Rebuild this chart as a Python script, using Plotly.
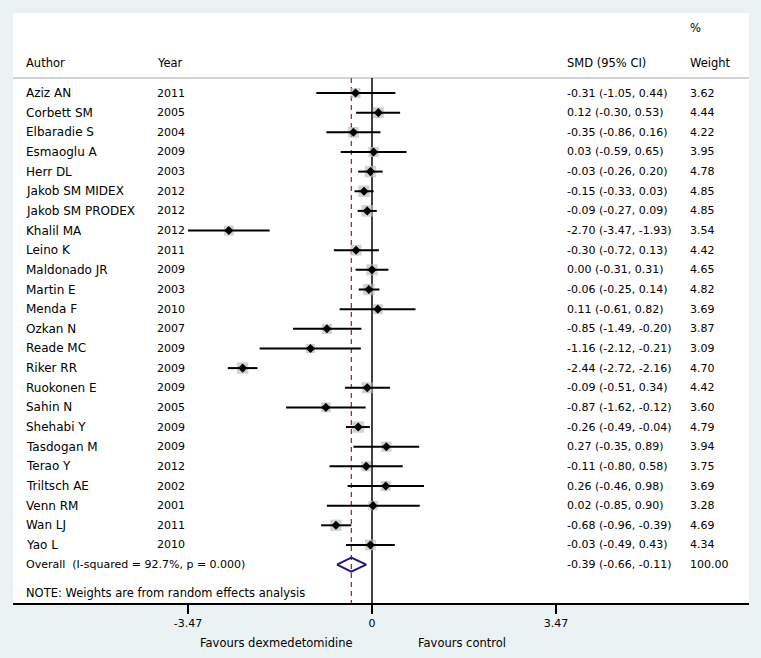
import plotly.graph_objects as go

authors = ["Aziz AN", "Corbett SM", "Elbaradie S", "Esmaoglu A", "Herr DL", "Jakob SM MIDEX",
           "Jakob SM PRODEX", "Khalil MA", "Leino K", "Maldonado JR", "Martin E", "Menda F",
           "Ozkan N", "Reade MC", "Riker RR", "Ruokonen E", "Sahin N", "Shehabi Y",
           "Tasdogan M", "Terao Y", "Triltsch AE", "Venn RM", "Wan LJ", "Yao L"]
years = ["2011", "2005", "2004", "2009", "2003", "2012", "2012", "2012", "2011", "2009", "2003", "2010",
         "2007", "2009", "2009", "2009", "2005", "2009", "2009", "2012", "2002", "2001", "2011", "2010"]
smd = [-0.31, 0.12, -0.35, 0.03, -0.03, -0.15, -0.09, -2.70, -0.30, 0.00, -0.06, 0.11,
       -0.85, -1.16, -2.44, -0.09, -0.87, -0.26, 0.27, -0.11, 0.26, 0.02, -0.68, -0.03]
ci_low = [-1.05, -0.30, -0.86, -0.59, -0.26, -0.33, -0.27, -3.47, -0.72, -0.31, -0.25, -0.61,
          -1.49, -2.12, -2.72, -0.51, -1.62, -0.49, -0.35, -0.80, -0.46, -0.85, -0.96, -0.49]
ci_high = [0.44, 0.53, 0.16, 0.65, 0.20, 0.03, 0.09, -1.93, 0.13, 0.31, 0.14, 0.82,
           -0.20, -0.21, -2.16, 0.34, -0.12, -0.04, 0.89, 0.58, 0.98, 0.90, -0.39, 0.43]
weights = [3.62, 4.44, 4.22, 3.95, 4.78, 4.85, 4.85, 3.54, 4.42, 4.65, 4.82, 3.69,
           3.87, 3.09, 4.70, 4.42, 3.60, 4.79, 3.94, 3.75, 3.69, 3.28, 4.69, 4.34]
overall_label = "Overall  (I-squared = 92.7%, p = 0.000)"
overall = [-0.39, -0.66, -0.11]
overall_weight = 100.00
tick_vals = [-3.47, 0, 3.47]
tick_text = ["-3.47", "0", "3.47"]

W, H = 761, 658
PL, PR, PT, PB = 13, 749, 13, 603   # panel in pixels
X0PX = 372.0
SCALE = 184.0 / 3.47               # px per unit
ROW0PX, ROWH = 93.0, 19.65

def xd(px):
    return (px - X0PX) / SCALE

def yd(py):
    return (py - ROW0PX) / ROWH

n = len(authors)
rows = list(range(n))
orow = n

FONT = "DejaVu Sans"
FS = 11.5
fig = go.Figure()

# gray weight boxes
fig.add_trace(go.Scatter(x=smd, y=rows, mode="markers",
                         marker=dict(symbol="square", color="#bdbdbd",
                                     size=[5.2 * w ** 0.5 for w in weights], line=dict(width=0)),
                         hoverinfo="skip", showlegend=False))
# CI lines
lx, ly = [], []
for i in rows:
    lx += [ci_low[i], ci_high[i], None]
    ly += [i, i, None]
fig.add_trace(go.Scatter(x=lx, y=ly, mode="lines", line=dict(color="black", width=2),
                         hoverinfo="skip", showlegend=False))
# point estimates
fig.add_trace(go.Scatter(x=smd, y=rows, mode="markers",
                         marker=dict(symbol="diamond", color="black", size=7),
                         hoverinfo="skip", showlegend=False))
# overall diamond
h = 7.0 / ROWH
fig.add_trace(go.Scatter(x=[overall[1], overall[0], overall[2], overall[0], overall[1]],
                         y=[orow, orow - h, orow, orow + h, orow], mode="lines",
                         line=dict(color="#1c1c72", width=2), hoverinfo="skip", showlegend=False))

ytop_line = yd(78)
ybot = yd(PB)
shapes = [
    dict(type="line", xref="paper", yref="y", x0=0, x1=1, y0=ytop_line, y1=ytop_line,
         line=dict(color="#c4c4c4", width=1.5), layer="below"),
    dict(type="line", xref="x", yref="y", x0=0, x1=0, y0=ytop_line, y1=ybot,
         line=dict(color="black", width=1.5), layer="below"),
    dict(type="line", xref="x", yref="y", x0=overall[0], x1=overall[0], y0=ytop_line, y1=ybot,
         line=dict(color="#8b2233", width=1.2, dash="5px,4px"), layer="below"),
]

ann = []
def t(x, y, s, size=FS, xanchor="left", yref="y"):
    ann.append(dict(x=x, y=y, xref="x", yref=yref, text=s, showarrow=False, xanchor=xanchor,
                    yanchor="middle", font=dict(family=FONT, size=size, color="black")))

xa, xy, xs, xw = xd(24), xd(155), xd(565), xd(688)
hy = yd(63)
t(xa, hy, "Author"); t(xy, hy, "Year"); t(xs, hy, "SMD (95% CI)")
t(xw, yd(28), "%"); t(xw, hy, "Weight")
for i in rows:
    t(xa, i, authors[i], size=12); t(xy, i, years[i], size=11)
    t(xs, i, "%.2f (%.2f, %.2f)" % (smd[i], ci_low[i], ci_high[i]), size=11)
    t(xw, i, "%.2f" % weights[i], size=11)
t(xa, orow, overall_label, size=11)
t(xs, orow, "%.2f (%.2f, %.2f)" % tuple(overall), size=11)
t(xw, orow, "%.2f" % overall_weight, size=11)
t(xa, yd(593), "NOTE: Weights are from random effects analysis")
py_fav = (PB - 643) / (PB - PT)
ann.append(dict(x=xd(276), y=py_fav, xref="x", yref="paper", text="Favours dexmedetomidine",
                showarrow=False, xanchor="center", yanchor="middle",
                font=dict(family=FONT, size=FS, color="black")))
ann.append(dict(x=xd(462), y=py_fav, xref="x", yref="paper", text="Favours control",
                showarrow=False, xanchor="center", yanchor="middle",
                font=dict(family=FONT, size=FS, color="black")))

fig.update_layout(
    width=W, height=H,
    margin=dict(l=PL, r=W - PR, t=PT, b=H - PB, pad=0),
    paper_bgcolor="#eaf2f3", plot_bgcolor="white",
    shapes=shapes, annotations=ann, showlegend=False,
    xaxis=dict(range=[xd(PL), xd(PR)], showgrid=False, zeroline=False, showline=True,
               linecolor="black", linewidth=1.5, ticks="outside", ticklen=9, tickwidth=1.5,
               tickcolor="black", tickvals=tick_vals, ticktext=tick_text,
               tickfont=dict(family=FONT, size=11, color="black"), fixedrange=True),
    yaxis=dict(range=[ybot, yd(PT)], showgrid=False, zeroline=False, showline=False,
               showticklabels=False, ticks="", fixedrange=True),
)

fig.write_html("out.html", config={"displayModeBar": False},
               post_script="document.body.style.margin='0';document.body.style.background='#eaf2f3';")
